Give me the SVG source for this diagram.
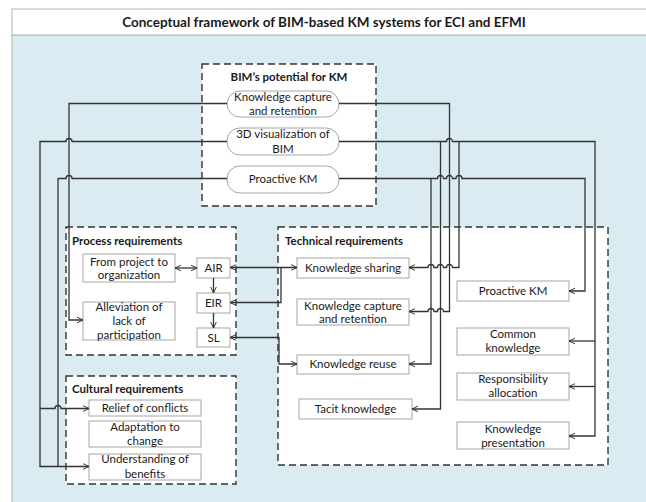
<svg xmlns="http://www.w3.org/2000/svg" width="646" height="502" viewBox="0 0 646 502">
<defs>
<style>
text{font-family:Lato,"Liberation Sans",sans-serif;font-size:11.5px;fill:#1a1a1a}
.t{text-anchor:middle}
.h{font-weight:bold}
.grp{fill:#fff;stroke:#333;stroke-width:1.4;stroke-dasharray:7 4}
.n{fill:#fff;stroke:#a6a6a6;stroke-width:1}
.c path{fill:none;stroke:#333;stroke-width:1.3}
.e{marker-end:url(#ah)}
.b{marker-start:url(#ah);marker-end:url(#ah)}
</style>
<marker id="ah" viewBox="0 0 10 10" refX="9.5" refY="5" markerWidth="7" markerHeight="10" markerUnits="userSpaceOnUse" orient="auto-start-reverse">
<path d="M1,1 L9.5,5 L1,9" fill="none" stroke="#333" stroke-width="1.4"/>
</marker>
</defs>
<rect x="12" y="35" width="640" height="470" fill="#DAEBF2" stroke="#b3b3b3"/>
<rect x="12" y="9" width="640" height="26" fill="#fff" stroke="#b3b3b3"/>
<text class="t h" x="324" y="27" style="font-size:13.5px">Conceptual framework of BIM-based KM systems for ECI and EFMI</text>

<g id="bim-potential">
<rect class="grp" x="202" y="64" width="174" height="142"/>
<text class="t h" x="289" y="81">BIM’s potential for KM</text>
</g>
<g id="p-capture">
<rect class="n" x="227" y="91" width="112" height="26" rx="13"/>
<text class="t" x="283" y="101">Knowledge capture</text>
<text class="t" x="283" y="115">and retention</text>
</g>
<g id="p-3d">
<rect class="n" x="227" y="128" width="112" height="27" rx="13"/>
<text class="t" x="283" y="138">3D visualization of</text>
<text class="t" x="283" y="153">BIM</text>
</g>
<g id="p-proactive">
<rect class="n" x="227" y="166" width="112" height="27" rx="13"/>
<text class="t" x="283" y="182.5">Proactive KM</text>
</g>

<g id="process">
<rect class="grp" x="66" y="227" width="170" height="128"/>
<text class="h" x="72" y="245">Process requirements</text>
</g>
<g id="from-project">
<rect class="n" x="83" y="254" width="92" height="28"/>
<text class="t" x="129" y="265.5">From project to</text>
<text class="t" x="129" y="279">organization</text>
</g>
<g id="alleviation">
<rect class="n" x="83" y="302" width="92" height="38"/>
<text class="t" x="129" y="310.5">Alleviation of</text>
<text class="t" x="129" y="324.5">lack of</text>
<text class="t" x="129" y="339">participation</text>
</g>
<g id="air">
<rect class="n" x="197" y="258" width="33" height="20"/>
<text class="t" x="213.5" y="272">AIR</text>
</g>
<g id="eir">
<rect class="n" x="197" y="293" width="33" height="20"/>
<text class="t" x="213.5" y="307">EIR</text>
</g>
<g id="sl">
<rect class="n" x="197" y="328" width="33" height="19"/>
<text class="t" x="213.5" y="342">SL</text>
</g>

<g id="cultural">
<rect class="grp" x="66" y="376" width="170" height="108"/>
<text class="h" x="72" y="393">Cultural requirements</text>
</g>
<g id="relief">
<rect class="n" x="89" y="400" width="112" height="16"/>
<text class="t" x="145" y="412">Relief of conflicts</text>
</g>
<g id="adaptation">
<rect class="n" x="89" y="421" width="112" height="26"/>
<text class="t" x="145" y="430.5">Adaptation to</text>
<text class="t" x="145" y="445">change</text>
</g>
<g id="understanding">
<rect class="n" x="89" y="454" width="112" height="26"/>
<text class="t" x="145" y="463">Understanding of</text>
<text class="t" x="145" y="478">benefits</text>
</g>

<g id="technical">
<rect class="grp" x="278" y="227" width="330" height="238"/>
<text class="h" x="285" y="245">Technical requirements</text>
</g>
<g id="k-sharing">
<rect class="n" x="297" y="258" width="112" height="20"/>
<text class="t" x="353" y="272">Knowledge sharing</text>
</g>
<g id="k-capture">
<rect class="n" x="297" y="299" width="112" height="26"/>
<text class="t" x="353" y="309.5">Knowledge capture</text>
<text class="t" x="353" y="323">and retention</text>
</g>
<g id="k-reuse">
<rect class="n" x="297" y="355" width="112" height="19"/>
<text class="t" x="353" y="368">Knowledge reuse</text>
</g>
<g id="tacit">
<rect class="n" x="299" y="399" width="113" height="20"/>
<text class="t" x="355.5" y="413">Tacit knowledge</text>
</g>
<g id="t-proactive">
<rect class="n" x="457" y="281" width="112" height="20"/>
<text class="t" x="513" y="295">Proactive KM</text>
</g>
<g id="common">
<rect class="n" x="457" y="328" width="112" height="27"/>
<text class="t" x="513" y="338">Common</text>
<text class="t" x="513" y="352">knowledge</text>
</g>
<g id="responsibility">
<rect class="n" x="457" y="373" width="112" height="27"/>
<text class="t" x="513" y="383">Responsibility</text>
<text class="t" x="513" y="397">allocation</text>
</g>
<g id="presentation">
<rect class="n" x="457" y="422" width="112" height="27"/>
<text class="t" x="513" y="433">Knowledge</text>
<text class="t" x="513" y="446.5">presentation</text>
</g>

<g id="connectors" class="c">
<path class="e" d="M339,103.5 H449.5 V311.5 H443.5 a3,3 0 0 0 -6,0 H434 a3,3 0 0 0 -6,0 H409"/>
<path class="e" d="M227,103.5 H69 V320 H83"/>
<path class="e" d="M339,141.5 H446.5 a3,3 0 0 1 6,0 H595 V436 H569"/>
<path class="e" d="M595,341 H569"/>
<path class="e" d="M595,386.5 H569"/>
<path class="e" d="M440.5,141.5 V409 H412"/>
<path class="e" d="M459,141.5 V267.5 H452.5 a3,3 0 0 0 -6,0 H443.5 a3,3 0 0 0 -6,0 H434 a3,3 0 0 0 -6,0 H409"/>
<path class="e" d="M227,141.5 H72 a3,3 0 0 0 -6,0 H40 V466.5 H89"/>
<path class="e" d="M40,408.5 H55 a3,3 0 0 1 6,0 H89"/>
<path class="e" d="M339,178.5 H437.5 a3,3 0 0 1 6,0 H446.5 a3,3 0 0 1 6,0 H456 a3,3 0 0 1 6,0 H585 V291 H569"/>
<path class="e" d="M431,178.5 V364 H409"/>
<path d="M227,178.5 H72 a3,3 0 0 0 -6,0 H58 V466.5"/>
<path class="b" d="M175,268 H197"/>
<path class="e" d="M213.5,278 V293"/>
<path class="e" d="M213.5,313 V328"/>
<path class="b" d="M230,267.5 H297"/>
<path class="e" d="M281,267.5 V302.5 H230"/>
<path class="b" d="M230,337.5 H279 V364 H297"/>
</g>
</svg>
